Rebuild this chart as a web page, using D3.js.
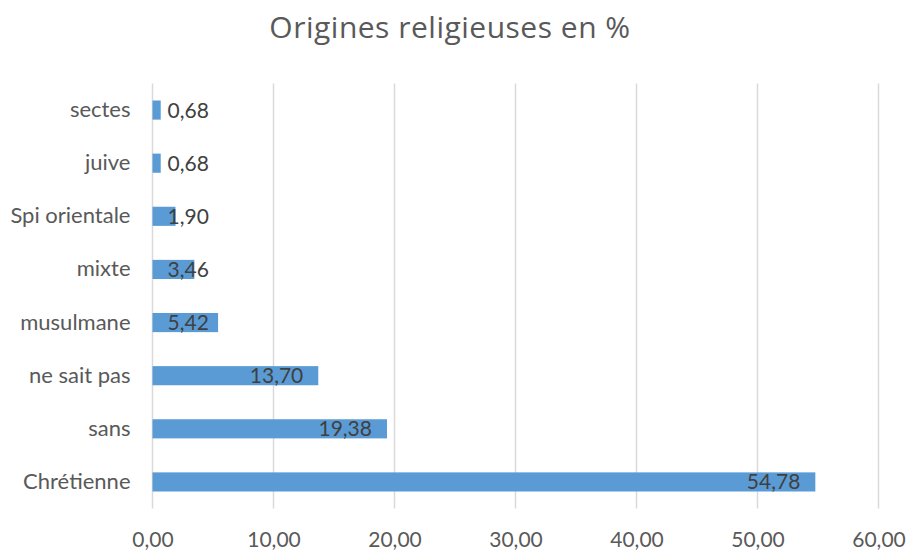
<!doctype html>
<html>
<head>
<meta charset="utf-8">
<script src="https://cdn.jsdelivr.net/npm/d3@7"></script>
<style>
  body { margin: 0; background: #fff; }
  text { font-family: Lato, "Open Sans", sans-serif; }
</style>
</head>
<body>
<script>

var categories = ["Chrétienne", "sans", "ne sait pas", "musulmane", "mixte", "Spi orientale", "juive", "sectes"];
var values = [54.78, 19.38, 13.70, 5.42, 3.46, 1.90, 0.68, 0.68];
var ticks = [0, 10, 20, 30, 40, 50, 60];

var w = 909, h = 552;
var mLeft = 152.5, mRight = 878.5, mTop = 83.5, mBottom = 508.5;

var svg = d3.select("body").append("svg").attr("width", w).attr("height", h);

var fmt = function(v) { return d3.format(".2f")(v).replace(".", ","); };

var x = d3.scaleLinear().domain([0, 60]).range([mLeft, mRight]);
// top-down order: last category at the top
var y = d3.scaleBand().domain(categories.slice().reverse()).range([mTop, mBottom]).paddingInner(0.64).paddingOuter(0.32);

svg.append("text")
   .attr("x", 450).attr("y", 38)
   .attr("text-anchor", "middle")
   .attr("fill", "#595959")
   .style("font-family", "'Open Sans'")
   .style("font-size", "30px")
   .style("letter-spacing", "0.5px")
   .text("Origines religieuses en %");

// gridlines
svg.append("g").selectAll("line")
   .data(ticks).enter().append("line")
   .attr("x1", function(d){ return x(d); })
   .attr("x2", function(d){ return x(d); })
   .attr("y1", mTop).attr("y2", mBottom)
   .attr("stroke", "#d9d9d9").attr("stroke-width", 1.5);

// x axis labels
var xa = svg.append("g").attr("transform", "translate(0," + mBottom + ")")
   .call(d3.axisBottom(x).tickValues(ticks).tickFormat(fmt).tickSize(0).tickPadding(24));
xa.select(".domain").remove();
xa.selectAll("text").attr("fill", "#595959").style("font-size", "21px").style("font-family", "Lato");

// category labels
var ya = svg.append("g").attr("transform", "translate(" + (mLeft - 22) + ",0)")
   .call(d3.axisLeft(y).tickSize(0).tickPadding(0));
ya.select(".domain").remove();
ya.selectAll("text").attr("fill", "#595959").style("font-size", "22px").style("font-family", "Lato");

var data = categories.map(function(c, i){ return {cat: c, val: values[i]}; });

svg.append("g").selectAll("rect")
   .data(data).enter().append("rect")
   .attr("x", x(0))
   .attr("y", function(d){ return y(d.cat); })
   .attr("width", function(d){ return x(d.val) - x(0); })
   .attr("height", y.bandwidth())
   .attr("fill", "#5b9bd5");

// value labels, inside end, kept inside the plot on the left
svg.append("g").selectAll("text")
   .data(data).enter().append("text")
   .attr("y", function(d){ return y(d.cat) + y.bandwidth() / 2; })
   .attr("dy", "0.36em")
   .attr("text-anchor", "end")
   .attr("fill", "#404040")
   .style("font-size", "21px")
   .text(function(d){ return fmt(d.val); })
   .attr("x", function(d){
     var tw = this.getComputedTextLength();
     return Math.max(x(d.val) - 15, x(0) + 15 + tw);
   });

</script>
</body>
</html>
